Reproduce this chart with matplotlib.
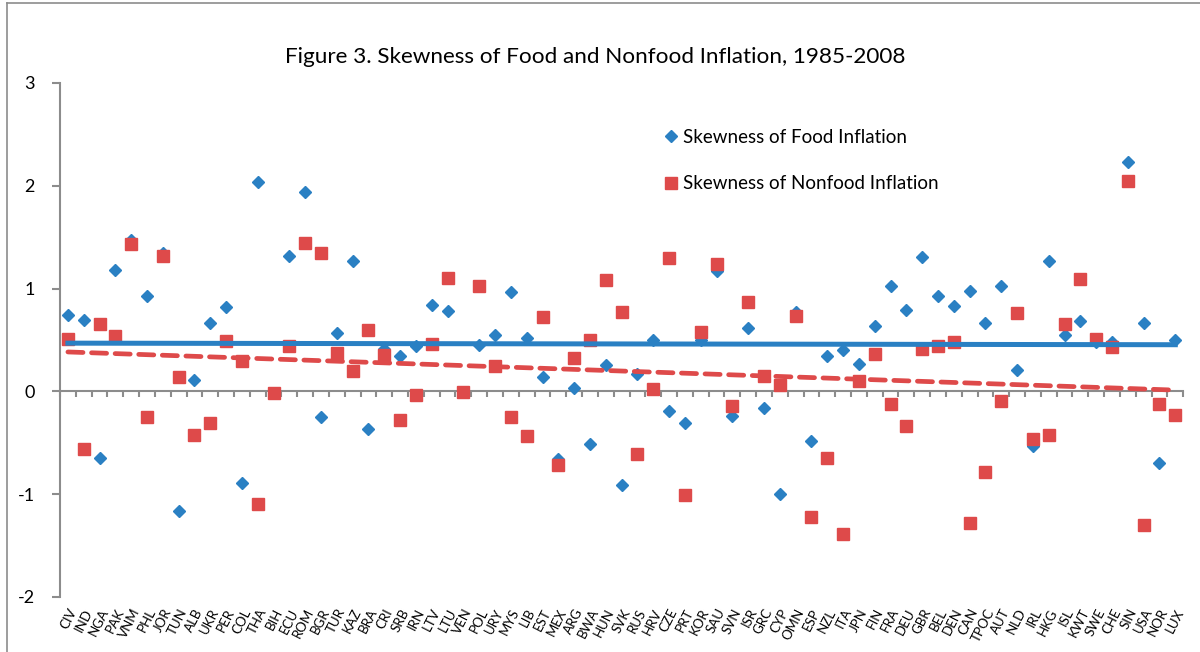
import matplotlib.pyplot as plt
from matplotlib.lines import Line2D
import numpy as np

plt.rcParams['font.family'] = ['Lato', 'DejaVu Sans']
plt.rcParams['axes.unicode_minus'] = False

# country codes (x axis)
countries = ['CIV', 'IND', 'NGA', 'PAK', 'VNM', 'PHL', 'JOR', 'TUN', 'ALB', 'UKR',
             'PER', 'COL', 'THA', 'BIH', 'ECU', 'ROM', 'BGR', 'TUR', 'KAZ', 'BRA',
             'CRI', 'SRB', 'IRN', 'LTV', 'LTU', 'VEN', 'POL', 'URY', 'MYS', 'LIB',
             'EST', 'MEX', 'ARG', 'BWA', 'HUN', 'SVK', 'RUS', 'HRV', 'CZE', 'PRT',
             'KOR', 'SAU', 'SVN', 'ISR', 'GRC', 'CYP', 'OMN', 'ESP', 'NZL', 'ITA',
             'JPN', 'FIN', 'FRA', 'DEU', 'GBR', 'BEL', 'DEN', 'CAN', 'TPOC', 'AUT',
             'NLD', 'IRL', 'HKG', 'ISL', 'KWT', 'SWE', 'CHE', 'SIN', 'USA', 'NOR', 'LUX']

# skewness of food inflation (nan = not visible in source)
food = [0.74, 0.69, -0.65, 1.18, 1.47, 0.93, 1.35, -1.16, 0.11, 0.67,
        0.82, -0.89, 2.04, np.nan, 1.32, 1.94, -0.25, 0.57, 1.27, -0.37,
        0.41, 0.34, 0.44, 0.84, 0.78, np.nan, 0.45, 0.55, 0.97, 0.52,
        0.14, -0.66, 0.03, -0.51, 0.26, -0.91, 0.17, 0.50, -0.19, -0.31,
        0.50, 1.17, -0.24, 0.62, -0.16, -1.00, 0.77, -0.48, 0.34, 0.40,
        0.27, 0.64, 1.03, 0.79, 1.31, 0.93, 0.83, 0.98, 0.67, 1.03,
        0.21, -0.53, 1.27, 0.55, 0.68, 0.48, 0.48, 2.23, 0.67, -0.70, 0.50]

# skewness of nonfood inflation
nonfood = [0.51, -0.56, 0.66, 0.54, 1.43, -0.25, 1.32, 0.14, -0.42, -0.31,
           0.49, 0.30, -1.10, -0.02, 0.44, 1.44, 1.35, 0.37, 0.20, 0.60,
           0.35, -0.28, -0.04, 0.46, 1.10, -0.01, 1.03, 0.25, -0.25, -0.43,
           0.72, -0.72, 0.32, 0.50, 1.08, 0.77, -0.61, 0.02, 1.30, -1.01,
           0.58, 1.24, -0.14, 0.87, 0.15, 0.06, 0.73, -1.22, -0.65, -1.39,
           0.10, 0.36, -0.12, -0.34, 0.41, 0.44, 0.48, -1.28, -0.78, -0.09,
           0.76, -0.46, -0.42, 0.66, 1.09, 0.51, 0.43, 2.05, -1.30, -0.12, -0.23]

blue = '#2A80C3'
red = '#DE4A4A'
grey = '#8C8C8C'

x = np.arange(len(countries))
food = np.array(food)
nonfood = np.array(nonfood)

fig = plt.figure(figsize=(12, 6.52), dpi=100)
ax = fig.add_axes([0.05, 0.0844, 0.936, 0.7883])

ax.plot(x, food, linestyle='none', marker='D', markersize=6.5, color=blue,
        label='Skewness of Food Inflation', zorder=3)
ax.plot(x, nonfood, linestyle='none', marker='s', markersize=9, color=red,
        label='Skewness of Nonfood Inflation', zorder=3)

# linear trend lines
m = ~np.isnan(food)
cf = np.polyfit(x[m], food[m], 1)
ax.plot(x, np.polyval(cf, x), color=blue, linewidth=3.6, zorder=4)
cn = np.polyfit(x, nonfood, 1)
ax.plot(x, np.polyval(cn, x), color=red, linewidth=3.4, dashes=[3.2, 1.8],
        dash_capstyle='round', zorder=4)

ax.set_xlim(-0.5, len(countries) - 0.5)
ax.set_ylim(-2, 3)
ax.set_yticks([-2, -1, 0, 1, 2, 3])
ax.tick_params(axis='y', direction='out', length=6, width=1.5, color=grey,
               labelsize=13, pad=12)

for s in ['top', 'right', 'bottom']:
    ax.spines[s].set_visible(False)
ax.spines['left'].set_color(grey)
ax.spines['left'].set_linewidth(1.5)

# category labels at the bottom
ax.set_xticks(x)
ax.set_xticklabels(countries)
ax.tick_params(axis='x', length=0, pad=7, labelsize=9.5)
plt.setp(ax.get_xticklabels(), rotation=63, ha='right', rotation_mode='anchor')

# zero axis with tick marks between categories
sec = ax.secondary_xaxis(0, transform=ax.transData)
sec.spines['bottom'].set_color(grey)
sec.spines['bottom'].set_linewidth(1.5)
sec.set_xticks(np.arange(len(countries) + 1) - 0.5)
sec.set_xticklabels([])
sec.tick_params(axis='x', direction='out', length=4, width=1.5, color=grey)

fig.text(0.496, 0.912, 'Figure 3. Skewness of Food and Nonfood Inflation, 1985-2008',
         ha='center', va='center', fontsize=16.2)

leg = ax.legend(loc='upper left', bbox_to_anchor=(0.527, 0.925), frameon=False,
                fontsize=13.5, labelspacing=1.55, handletextpad=0.05,
                handlelength=1.2, borderaxespad=0)

# chart frame
fig.add_artist(Line2D([0.006, 0.006], [0, 0.9954], color=grey, linewidth=1.2))
fig.add_artist(Line2D([0.006, 1], [0.9954, 0.9954], color=grey, linewidth=1.2))

plt.savefig('out.png', dpi=100, facecolor='white')
